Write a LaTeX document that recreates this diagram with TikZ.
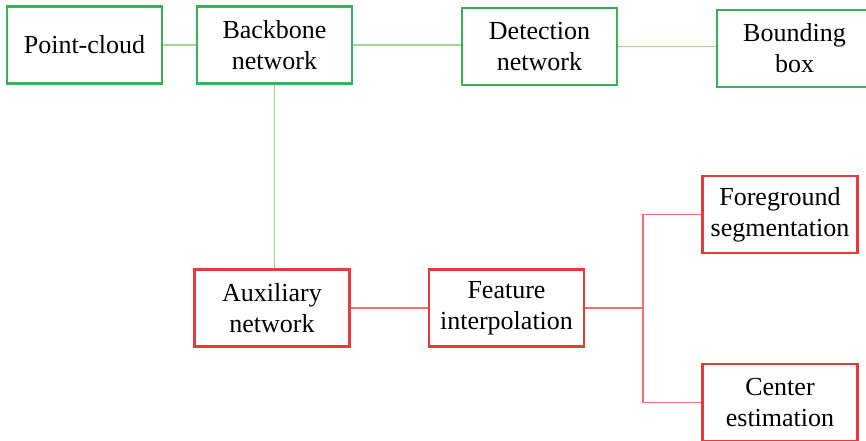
\documentclass[tikz,border=0pt]{standalone}
\usepackage{fontspec}
\setmainfont{Liberation Serif}
\usetikzlibrary{positioning}
\definecolor{boxgreen}{RGB}{56,178,88}
\definecolor{linegreen}{RGB}{165,212,150}
\definecolor{boxred}{RGB}{232,58,58}
\definecolor{linered}{RGB}{242,112,112}
\tikzset{
  mainbox/.style={draw=boxgreen, line width=2.5pt, fill=white, minimum width=155pt, minimum height=77pt, align=center, inner sep=2pt},
  auxbox/.style={draw=boxred, line width=2.2pt, fill=white, minimum width=155pt, minimum height=77pt, align=center, inner sep=2pt},
  mainlink/.style={draw=linegreen, line width=1.6pt},
  auxlink/.style={draw=linered, line width=1.4pt}
}

\begin{document}
\begin{tikzpicture}[x=1pt, y=-1pt, every node/.style={font=\fontsize{26}{31}\selectfont}]
  \useasboundingbox (0,0) rectangle (866,440);
  \clip (0,0) rectangle (866,440);
  \node[mainbox] (pc) at (84.5,45) {Point-cloud};
  \node[mainbox] (bb) at (274.5,45) {Backbone\\network};
  \node[mainbox] (det) at (539.5,46.5) {Detection\\network};
  \node[mainbox] (bbox) at (794.5,48.5) {Bounding\\box};
  \node[auxbox] (aux) at (272,308) {Auxiliary\\network};
  \node[auxbox] (feat) at (506.5,308) {Feature\\interpolation};
  \node[auxbox] (fg) at (780,214.5) {Foreground\\segmentation};
  \node[auxbox] (ce) at (780,402.5) {Center\\estimation};
  \coordinate (split) at (643,308);
  \draw[mainlink] (pc) -- (bb);
  \draw[mainlink] (bb.east) -- (bb.east -| det.west);
  \draw[mainlink] (det.east) -- (det.east -| bbox.west);
  \draw[mainlink] (bb.south) -- (bb.south |- aux.north);
  \draw[auxlink] (aux) -- (feat);
  \draw[auxlink] (feat.east) -- (split);
  \draw[auxlink] (fg.west) -| (split) |- (ce.west);
\end{tikzpicture}
\end{document}
